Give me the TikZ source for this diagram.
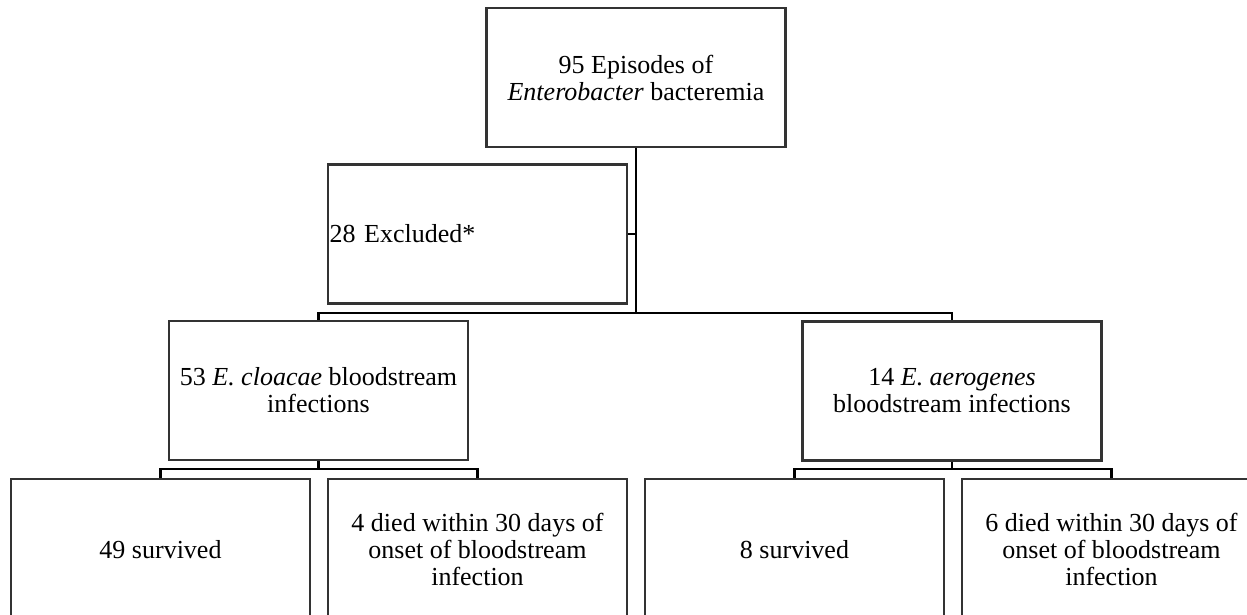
\documentclass[tikz,border=0pt]{standalone}
\usepackage{fontspec}
\setmainfont{Liberation Serif}
\begin{document}
\begin{tikzpicture}[x=1pt,y=-1pt,
  box/.style={draw=black!80, line width=2.2pt, minimum width=299pt, minimum height=139pt,
    inner sep=0pt, align=center, font=\fontsize{26}{27}\selectfont},
  leftbox/.style={box, text width=296pt, align=left},
  conn/.style={draw=black, line width=2.8pt}]
\useasboundingbox (0,0) rectangle (1247,615);
\clip (0,0) rectangle (1247,615);
\fill[white] (0,0) rectangle (1247,615);
\node[box] (top) at (636,77.5) {95 Episodes of\\\textit{Enterobacter} bacteremia};
\node[leftbox] (excl) at (477.5,234) {28 Excluded*};
\node[box] (c53) at (318.5,390.5) {53 \textit{E. cloacae} bloodstream\\infections};
\node[box] (c14) at (952,391) {14 \textit{E. aerogenes}\\bloodstream infections};
\node[box, minimum height=141pt] (b1) at (160.5,549.5) {49 survived};
\node[box, minimum height=141pt] (b2) at (477.5,549.5) {4 died within 30 days of\\onset of bloodstream\\infection};
\node[box, minimum height=141pt] (b3) at (794.5,549.5) {8 survived};
\node[box, minimum height=141pt] (b4) at (1111.5,549.5) {6 died within 30 days of\\onset of bloodstream\\infection};
\coordinate (j1) at (636,313);
\coordinate (j2) at (318.5,469);
\coordinate (j3) at (952,469);
\draw[conn] (top.south) -- (j1);
\draw[conn] (c53.north) |- (j1) -| (c14.north);
\draw[conn] (excl.east) -- (excl.east -| j1);
\draw[conn] (c53.south) -- (j2);
\draw[conn] (b1.north) |- (j2) -| (b2.north);
\draw[conn] (c14.south) -- (j3);
\draw[conn] (b3.north) |- (j3) -| (b4.north);
\end{tikzpicture}
\end{document}
